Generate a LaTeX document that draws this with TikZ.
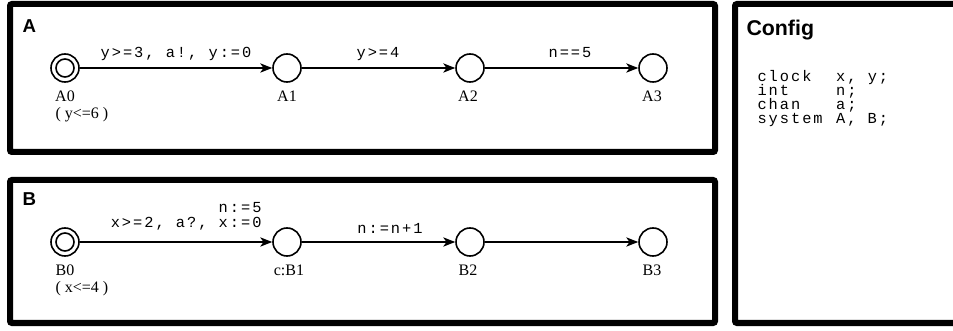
\documentclass[tikz,border=0pt]{standalone}
\usepackage{fontspec}
\setmainfont{Liberation Serif}
\setsansfont{Liberation Sans}
\newfontfamily\codefont{Liberation Mono}[LetterSpace=13]
\usetikzlibrary{arrows.meta}

\newcommand{\declkw}[1]{\makebox[59pt][l]{#1}}
\newcommand{\declfont}{\fontsize{11.5}{10.5}\codefont\lineskiplimit=-100pt\relax}

\tikzset{
	loc/.style={circle, draw, line width=1.2pt, minimum size=21pt, inner sep=0pt},
	initloc/.style={loc, path picture={\draw[line width=1.2pt] (path picture bounding box.center) circle (6.75pt);}},
	trans/.style={-{Stealth[length=9pt, width=7pt, inset=2.5pt]}, line width=1pt},
	frame/.style={draw, line width=4.5pt, rounded corners=1.5pt},
	title/.style={font=\sffamily\bfseries\fontsize{14}{16}\selectfont, anchor=base west, inner sep=0pt},
	locname/.style={font=\fontsize{12}{13}\selectfont, anchor=base, inner sep=0pt},
	code/.style={font=\fontsize{11.5}{12}\codefont, inner sep=0pt}}
\tikzset{every picture/.style={line width=0.75pt}}

\begin{document}
\begin{tikzpicture}[x=0.75pt,y=0.75pt,yscale=-1,xscale=1]
	\useasboundingbox (0,0) rectangle (953,331);

	%Shape: Rectangle [id:frameA]
	\draw[frame] (10,4) rectangle (715,152);
	%Shape: Rectangle [id:frameB]
	\draw[frame] (10,180) rectangle (715,323);
	%Shape: Rectangle [id:frameCfg]
	\draw[frame] (735,4) rectangle (975,323);

	% Text Node
	\node[title] (ttlA) at (22,33) {A};
	% Text Node
	\node[title] (ttlB) at (22,206) {B};
	% Text Node
	\node[title, font=\sffamily\bfseries\fontsize{16}{18}\selectfont] (ttlCfg) at (746,36) {Config};

	% Template A
	\node[initloc] (A0) at (65,68) {};
	\node[loc] (A1) at (287,68) {};
	\node[loc] (A2) at (470,68) {};
	\node[loc] (A3) at (653,68) {};
	\node[locname] (nA0) at (65,102) {A0};
	\node[locname, anchor=base west] (invA0) at (55,119) {( y<=6 )};
	\node[locname] (nA1) at (287,102) {A1};
	\node[locname] (nA2) at (468,102) {A2};
	\node[locname] (nA3) at (652,102) {A3};

	\draw[trans] (A0) -- (A1);
	\draw[trans] (A1) -- (A2);
	\draw[trans] (A2) -- (A3);
	% Text Node
	\node[code, anchor=base] (gA01) at (176,58) {y>=3, a!, y:=0};
	% Text Node
	\node[code, anchor=base] (gA12) at (378,58) {y>=4};
	% Text Node
	\node[code, anchor=base] (gA23) at (570,58) {n==5};

	% Template B
	\node[initloc] (B0) at (65,242) {};
	\node[loc] (B1) at (287,242) {};
	\node[loc] (B2) at (470,242) {};
	\node[loc] (B3) at (653,242) {};
	\node[locname] (nB0) at (65,276) {B0};
	\node[locname, anchor=base west] (invB0) at (55,293) {( x<=4 )};
	\node[locname] (nB1) at (289,276) {c:B1};
	\node[locname] (nB2) at (468,276) {B2};
	\node[locname] (nB3) at (652,276) {B3};

	\draw[trans] (B0) -- (B1);
	\draw[trans] (B1) -- (B2);
	\draw[trans] (B2) -- (B3);
	% Text Node
	\node[code, anchor=base east] (uB01) at (262,213) {n:=5};
	% Text Node
	\node[code, anchor=base east] (gB01) at (262,228) {x>=2, a?, x:=0};
	% Text Node
	\node[code, anchor=base] (uB12) at (390,234) {n:=n+1};

	% Declarations
	\node[code, font=\declfont, align=left, anchor=north west] (decl) at (757,70) {\declkw{clock}x, y;\\ \declkw{int}n;\\ \declkw{chan}a;\\ \declkw{system}A, B;};

\end{tikzpicture}
\end{document}
